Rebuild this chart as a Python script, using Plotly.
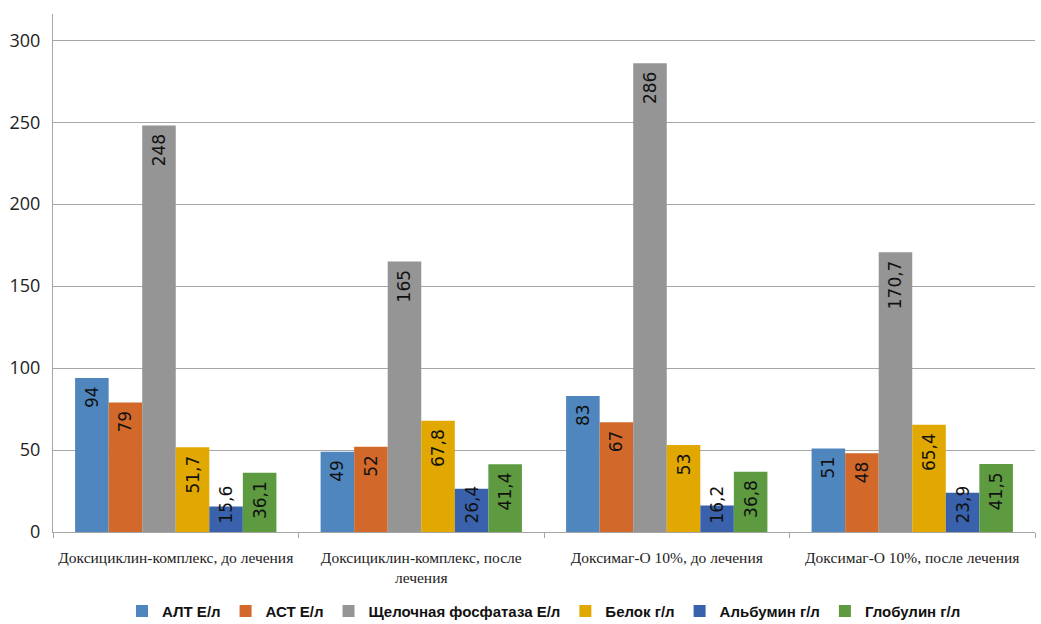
import plotly.graph_objects as go

categories = ["Доксициклин-комплекс, до лечения",
              "Доксициклин-комплекс, после<br>лечения",
              "Доксимаг-О 10%, до лечения",
              "Доксимаг-О 10%, после лечения"]
series_names = ["АЛТ Е/л", "АСТ Е/л", "Щелочная фосфатаза Е/л", "Белок г/л", "Альбумин г/л", "Глобулин г/л"]
alt = [94, 49, 83, 51]
ast = [79, 52, 67, 48]
alp = [248, 165, 286, 170.7]
protein = [51.7, 67.8, 53, 65.4]
albumin = [15.6, 26.4, 16.2, 23.9]
globulin = [36.1, 41.4, 36.8, 41.5]
colors = ["#4F86BE", "#D2692A", "#959595", "#E0A800", "#3A62AC", "#5D9A40"]

NB = "\u00a0"
fig = go.Figure()
for name, vals, c in zip(series_names, [alt, ast, alp, protein, albumin, globulin], colors):
    small = name == "Альбумин г/л"
    labels = [str(v).replace(".", ",") for v in vals]
    fig.add_trace(go.Bar(
        x=categories, y=vals, name=name, marker_color=c,
        marker_line_width=0,
        text=[(NB + t) if small else (t + NB) for t in labels],
        textposition="inside", insidetextanchor="start" if small else "end", textangle=-90,
        textfont=dict(family="DejaVu Sans", size=17, color="#111111"),
        cliponaxis=False,
    ))

fig.update_layout(
    barmode="group", bargap=0.18, bargroupgap=0,
    width=1041, height=624,
    margin=dict(l=53, r=6, t=14, b=92, autoexpand=False),
    plot_bgcolor="white", paper_bgcolor="white",
    uniformtext=dict(minsize=17, mode="show"),
    legend=dict(orientation="h", x=0.5, xanchor="center", y=-0.153, yanchor="middle",
                font=dict(family="Liberation Sans", size=15, color="#111111", weight="bold"),
                traceorder="normal", itemwidth=30, tracegroupgap=0),
    xaxis=dict(showline=True, linecolor="#A6A6A6", linewidth=1, tickangle=0,
               ticks="outside", tickson="boundaries", ticklen=5, tickcolor="#A6A6A6",
               ticklabelstandoff=11, automargin=False,
               tickfont=dict(family="Liberation Serif", size=15.5, color="#222222")),
    yaxis=dict(range=[0, 316], tickvals=[0, 50, 100, 150, 200, 250, 300],
               showgrid=True, gridcolor="#A6A6A6", gridwidth=1,
               showline=True, linecolor="#A6A6A6", zeroline=False, automargin=False,
               ticks="", ticklabelstandoff=8,
               tickfont=dict(family="Open Sans", size=18, color="#222222")),
)
fig.write_html("out.html")
